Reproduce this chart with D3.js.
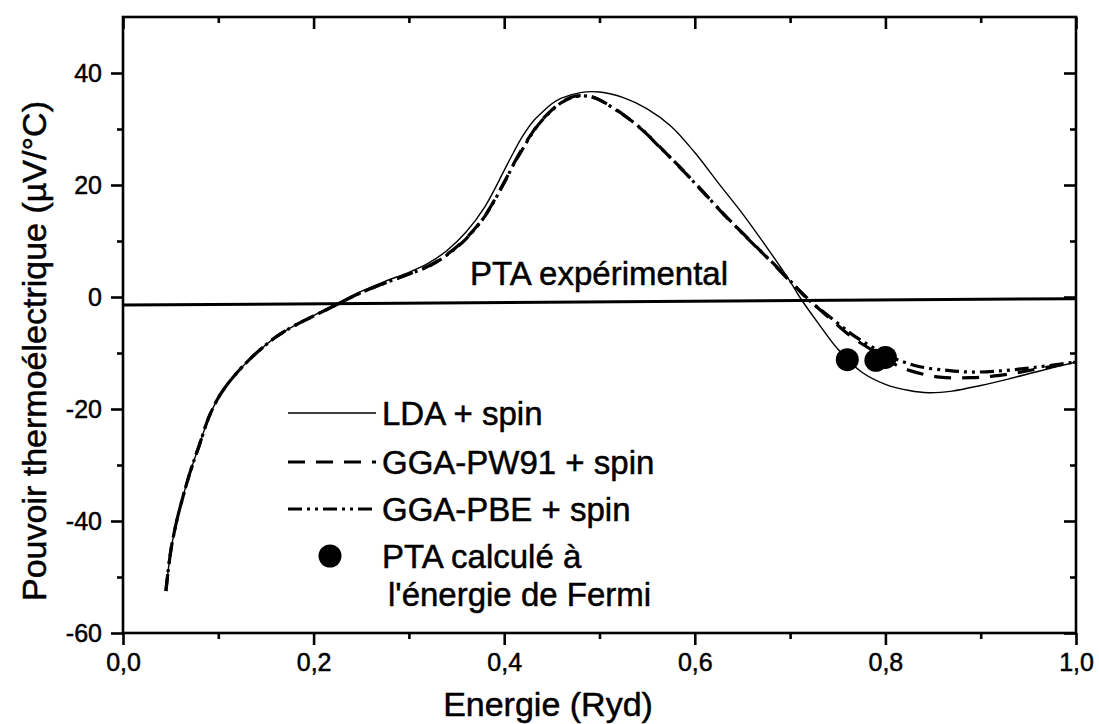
<!DOCTYPE html>
<html><head><meta charset="utf-8">
<script src="https://cdn.jsdelivr.net/npm/d3@7"></script>
<style>
html,body{margin:0;padding:0;background:#fff;}
svg{display:block;}
text{font-family:"Liberation Sans",Arial,Helvetica,sans-serif;fill:#000;stroke:#000;stroke-width:0.5px;}
</style></head>
<body>
<svg id="chart" width="1099" height="724"></svg>
<script>
// ---- data ----
const ldaE   = [0.045,0.05,0.055,0.06,0.07,0.08,0.09,0.10,0.11,0.125,0.14,0.16,0.18,0.20,0.225,0.25,0.275,0.30,0.32,0.34,0.36,0.38,0.40,0.41,0.42,0.43,0.44,0.45,0.46,0.48,0.50,0.525,0.55,0.575,0.60,0.625,0.65,0.675,0.70,0.71,0.73,0.75,0.775,0.80,0.825,0.845,0.87,0.90,0.93,0.96,1.00];
const ldaS   = [-52.5,-45.5,-41,-37.5,-31.5,-26.5,-21.5,-18,-15.5,-12.5,-10,-7.2,-5.1,-3.3,-1.1,1.0,2.8,4.4,6.0,8.3,11.6,16.2,22.6,25.9,28.9,31.3,33.0,34.5,35.5,36.5,36.6,35.6,33.6,30.5,25.8,20.3,14.9,9.0,2.8,0.0,-4.8,-9.3,-13.4,-15.6,-16.7,-17.1,-16.8,-15.8,-14.6,-13.3,-11.6];

const pw91E  = [0.045,0.05,0.055,0.06,0.07,0.08,0.09,0.10,0.11,0.125,0.14,0.16,0.18,0.20,0.225,0.25,0.275,0.30,0.32,0.34,0.36,0.38,0.40,0.41,0.42,0.43,0.44,0.45,0.46,0.475,0.49,0.50,0.525,0.545,0.56,0.585,0.605,0.63,0.655,0.68,0.70,0.718,0.745,0.766,0.787,0.805,0.825,0.857,0.89,0.92,0.955,1.00];
const pw91S  = [-52.5,-45.5,-41,-37.5,-31.5,-26.5,-21.5,-18,-15.5,-12.5,-10,-7.2,-5.1,-3.4,-1.3,0.8,2.5,4.1,5.5,7.6,10.5,14.6,20.5,23.8,26.8,29.5,31.7,33.4,34.8,35.9,35.8,35.2,32.6,29.8,27.4,23.0,19.5,14.8,10.6,6.3,2.8,-0.2,-4.3,-7.3,-9.6,-11.6,-13.1,-14.3,-14.4,-14.0,-13.0,-11.6];

const pbeE   = [0.045,0.05,0.055,0.06,0.07,0.08,0.09,0.10,0.11,0.125,0.14,0.16,0.18,0.20,0.225,0.25,0.275,0.30,0.32,0.34,0.36,0.38,0.40,0.41,0.42,0.43,0.44,0.45,0.46,0.475,0.49,0.50,0.525,0.545,0.56,0.585,0.605,0.63,0.655,0.68,0.70,0.718,0.745,0.766,0.787,0.81,0.835,0.865,0.89,0.92,0.955,1.00];
const pbeS   = [-52.5,-45.5,-41,-37.5,-31.5,-26.5,-21.5,-18,-15.5,-12.5,-10,-7.2,-5.1,-3.4,-1.3,0.8,2.5,4.1,5.4,7.5,10.4,14.5,20.4,23.7,26.6,29.4,31.6,33.3,34.7,35.8,35.8,35.2,32.5,29.9,27.3,23.1,19.4,14.9,10.5,6.4,2.9,-0.3,-4.0,-6.8,-9.0,-11.0,-12.4,-13.1,-13.4,-13.2,-12.6,-11.6];

const expE   = [0.0, 1.0];
const expS   = [-1.45, -0.3];

const dotE   = [0.76, 0.79, 0.80];
const dotS   = [-11.2, -11.3, -10.8];

const xMajor = [0.0,0.2,0.4,0.6,0.8,1.0];
const xMinor = [0.1,0.3,0.5,0.7,0.9];
const xTickLabels = ["0,0","0,2","0,4","0,6","0,8","1,0"];
const yMajor = [-60,-40,-20,0,20,40];
const yMinor = [-50,-30,-10,10,30];
const yTickLabels = ["-60","-40","-20","0","20","40"];

const legendLabels = ["LDA + spin","GGA-PW91 + spin","GGA-PBE + spin"];
const legendDotLabel = ["PTA calculé à","l'énergie de Fermi"];
const expLabel = "PTA expérimental";
const xTitle = "Energie (Ryd)";
const yTitle = "Pouvoir thermoélectrique (µV/°C)";

// ---- layout ----
const svg = d3.select("#chart");
const L = 123, R = 1076, T = 17, B = 633;
const x = d3.scaleLinear().domain([0,1]).range([L,R]);
const y = d3.scaleLinear().domain([-60,50]).range([B,T]);

const AXW = 2.6;
const gB = svg.append("g").attr("transform",`translate(0,${B})`)
  .call(d3.axisBottom(x).tickValues(xMajor).tickSize(12).tickPadding(8).tickFormat((d,i)=>xTickLabels[i]));
const gBm = svg.append("g").attr("transform",`translate(0,${B})`)
  .call(d3.axisBottom(x).tickValues(xMinor).tickSize(6).tickFormat(""));
const gT = svg.append("g").attr("transform",`translate(0,${T})`)
  .call(d3.axisBottom(x).tickValues(xMajor).tickSize(12).tickFormat(""));
const gTm = svg.append("g").attr("transform",`translate(0,${T})`)
  .call(d3.axisBottom(x).tickValues(xMinor).tickSize(6).tickFormat(""));
const gL = svg.append("g").attr("transform",`translate(${L},0)`)
  .call(d3.axisLeft(y).tickValues(yMajor).tickSize(12).tickPadding(9).tickFormat((d,i)=>yTickLabels[i]));
const gLm = svg.append("g").attr("transform",`translate(${L},0)`)
  .call(d3.axisLeft(y).tickValues(yMinor).tickSize(6).tickFormat(""));
const gR = svg.append("g").attr("transform",`translate(${R},0)`)
  .call(d3.axisLeft(y).tickValues(yMajor).tickSize(12).tickFormat(""));
const gRm = svg.append("g").attr("transform",`translate(${R},0)`)
  .call(d3.axisLeft(y).tickValues(yMinor).tickSize(6).tickFormat(""));

[gB,gBm,gT,gTm,gL,gLm,gR,gRm].forEach(g=>{
  g.select(".domain").remove();
  g.selectAll(".tick line").attr("stroke","#000").attr("stroke-width",AXW);
  g.selectAll(".tick text").attr("font-size",25).attr("fill","#000");
});
svg.append("rect").attr("x",L).attr("y",T).attr("width",R-L).attr("height",B-T)
  .attr("fill","none").attr("stroke","#000").attr("stroke-width",AXW);

// experimental line
const line = d3.line().x(d=>x(d[0])).y(d=>y(d[1]));
svg.append("path").datum(expE.map((e,i)=>[e,expS[i]])).attr("d",line)
  .attr("fill","none").attr("stroke","#000").attr("stroke-width",3);

const curve = d3.line().x(d=>x(d[0])).y(d=>y(d[1])).curve(d3.curveCatmullRom.alpha(0.5));
const series = [
  {E:ldaE,S:ldaS,w:1.4,dash:null},
  {E:pw91E,S:pw91S,w:3.2,dash:"17,11"},
  {E:pbeE,S:pbeS,w:3.2,dash:"14,5,3,5,3,5"}
];
series.forEach(s=>{
  svg.append("path").datum(s.E.map((e,i)=>[e,s.S[i]])).attr("d",curve)
    .attr("fill","none").attr("stroke","#000").attr("stroke-width",s.w)
    .attr("stroke-dasharray",s.dash);
});

svg.selectAll("circle.pt").data(dotE.map((e,i)=>[e,dotS[i]])).enter().append("circle")
  .attr("class","pt").attr("cx",d=>x(d[0])).attr("cy",d=>y(d[1])).attr("r",11.5).attr("fill","#000");

svg.append("text").attr("x",470).attr("y",285).attr("font-size",33).text(expLabel);

// legend
const legY = [413,462,509];
series.forEach((s,i)=>{
  svg.append("line").attr("x1",288).attr("x2",376).attr("y1",legY[i]).attr("y2",legY[i])
    .attr("stroke","#000").attr("stroke-width",s.w).attr("stroke-dasharray",s.dash);
  svg.append("text").attr("x",382).attr("y",legY[i]).attr("dy","0.36em").attr("font-size",33).text(legendLabels[i]);
});
svg.append("circle").attr("cx",330).attr("cy",556).attr("r",11.5).attr("fill","#000");
svg.append("text").attr("x",382).attr("y",556).attr("dy","0.36em").attr("font-size",33).text(legendDotLabel[0]);
svg.append("text").attr("x",388).attr("y",594).attr("dy","0.36em").attr("font-size",33).text(legendDotLabel[1]);

svg.append("text").attr("x",548).attr("y",716).attr("text-anchor","middle").attr("font-size",34).text(xTitle);
svg.append("text").attr("transform","translate(46,351) rotate(-90)").attr("text-anchor","middle").attr("font-size",34).text(yTitle);
</script>
</body></html>
